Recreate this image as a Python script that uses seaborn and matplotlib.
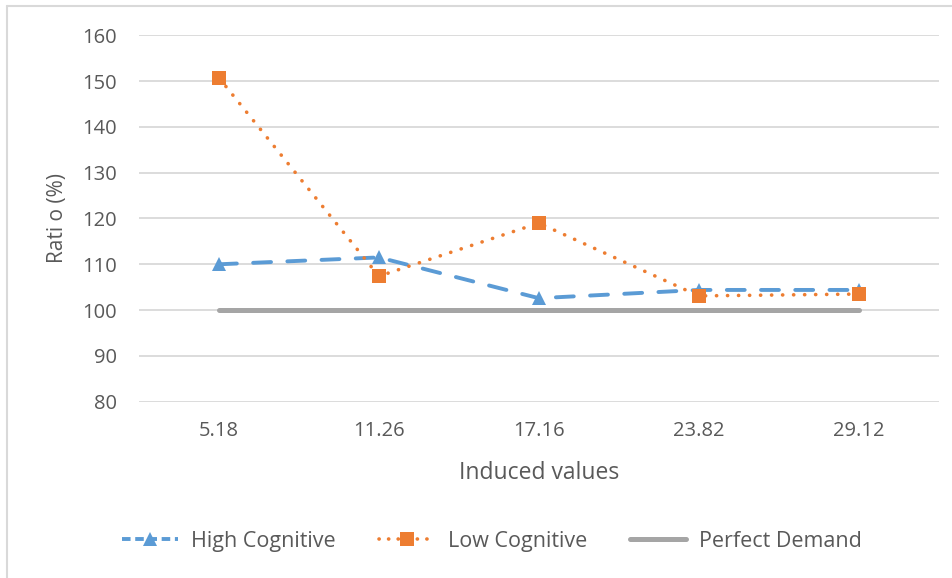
import pandas as pd
import seaborn as sns
import matplotlib.pyplot as plt
from matplotlib.lines import Line2D

categories = ['5.18', '11.26', '17.16', '23.82', '29.12']
high_cognitive = [110.0, 111.5, 102.6, 104.4, 104.4]
low_cognitive = [150.7, 107.4, 119.0, 103.1, 103.5]
perfect_demand = [100, 100, 100, 100, 100]

blue = '#5B9BD5'
orange = '#ED7D31'
gray = '#A5A5A5'
text_color = '#595959'

sns.set_theme(style='white')
plt.rcParams['font.family'] = ['Open Sans', 'DejaVu Sans']

df = pd.DataFrame({'x': categories, 'high': high_cognitive,
                   'low': low_cognitive, 'perfect': perfect_demand})

fig = plt.figure(figsize=(9.52, 5.78), dpi=100)
ax = fig.add_axes([0.146, 0.305, 0.840, 0.634])

sns.lineplot(data=df, x='x', y='perfect', ax=ax, color=gray, lw=3.6,
             solid_capstyle='round', sort=False)
sns.lineplot(data=df, x='x', y='high', ax=ax, color=blue, lw=2.8,
             marker='^', markersize=10, markeredgewidth=0,
             dashes=False, sort=False)
ax.lines[-1].set_linestyle((0, (4.6, 4.2)))
ax.lines[-1].set_dash_capstyle('round')
sns.lineplot(data=df, x='x', y='low', ax=ax, color=orange, lw=2.6,
             marker='s', markersize=9.5, markeredgewidth=0,
             dashes=False, sort=False)
ax.lines[-1].set_linestyle((0, (0.05, 3.0)))
ax.lines[-1].set_dash_capstyle('round')

ax.set_ylim(80, 160)
ax.set_yticks(range(80, 161, 10))
ax.set_xlim(-0.5, 4.5)
ax.grid(axis='y', color='#D9D9D9', lw=1.3)
ax.set_axisbelow(True)
for s in ax.spines.values():
    s.set_visible(False)
ax.tick_params(axis='both', length=0, labelsize=14.5, colors=text_color)
ax.tick_params(axis='y', pad=16)
ax.tick_params(axis='x', pad=14)
ax.set_xlabel('Induced values', fontsize=16.5, color=text_color, labelpad=14)
ax.set_ylabel('Rati o (%)', fontsize=15, color=text_color, labelpad=10)

handles = [
    Line2D([], [], color=blue, lw=2.8, ls=(0, (2.2, 1.2)), marker='^',
           markersize=10, markeredgewidth=0),
    Line2D([], [], color=orange, lw=2.6, ls=(0, (0.05, 2.6)),
           dash_capstyle='round', marker='s', markersize=9.5,
           markeredgewidth=0),
    Line2D([], [], color=gray, lw=3.6, solid_capstyle='round'),
]
fig.legend(handles, ['High Cognitive', 'Low Cognitive', 'Perfect Demand'],
           loc='center', bbox_to_anchor=(0.517, 0.064), ncol=3, frameon=False,
           fontsize=15.5, labelcolor=text_color, handlelength=2.6,
           columnspacing=2.0, handletextpad=0.6)

fig.add_artist(Line2D([0.0078, 0.0078], [0, 0.99], color='#D9D9D9', lw=1.5,
                      transform=fig.transFigure))
fig.add_artist(Line2D([0.0078, 1], [0.99, 0.99], color='#D9D9D9', lw=1.5,
                      transform=fig.transFigure))

fig.savefig('out.png', dpi=100)
